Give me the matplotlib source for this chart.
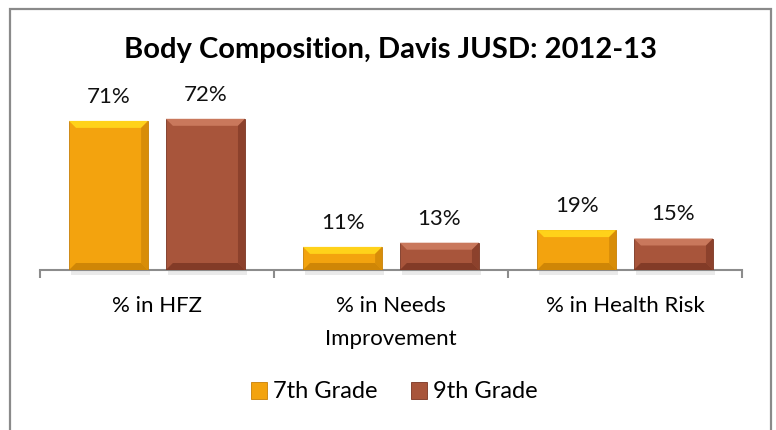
import numpy as np
import matplotlib
matplotlib.use("Agg")
import matplotlib.pyplot as plt
from matplotlib.patches import Polygon, Rectangle

plt.rcParams['font.family'] = ['Lato', 'DejaVu Sans']

title = "Body Composition, Davis JUSD: 2012-13"
categories = ["% in HFZ", "% in Needs\nImprovement", "% in Health Risk"]
series_names = ["7th Grade", "9th Grade"]
grade7 = [71, 11, 19]
grade9 = [72, 13, 15]

colors = ['#F3A30E', '#A8553B']
light = ['#FFD21A', '#C9785C']
dark = ['#C77F05', '#7A3522']

fig = plt.figure(figsize=(7.76, 4.3), dpi=100)
ax = fig.add_axes([40 / 776, 1 - 270 / 430, 702 / 776, 168 / 430])

x = np.arange(len(categories))
w = 0.338
off = 0.207
ax.set_xlim(-0.5, len(categories) - 0.5)
ax.set_ylim(0, 80)

# pixel -> data scale, for the bevel size
px_x = 1 / 234.0
px_y = 80 / 168.0
bev = 7

for k, vals in enumerate([grade7, grade9]):
    pos = x + (-off if k == 0 else off)
    bars = ax.bar(pos, vals, w, color=colors[k], edgecolor=dark[k], linewidth=0.6,
                  label=series_names[k], zorder=3)
    for b in bars:
        x0, y0 = b.get_x(), b.get_y()
        x1, y1 = x0 + b.get_width(), y0 + b.get_height()
        bx = bev * px_x
        by = min(bev * px_y, (y1 - y0) / 2.5)
        # soft shadow under the bar
        ax.add_patch(Rectangle((x0 + 2 * px_x, y0 - 5 * px_y), x1 - x0, 5 * px_y,
                               facecolor='#cccccc', edgecolor='none', alpha=0.4, zorder=2,
                               clip_on=False))
        ax.add_patch(Polygon([(x0, y1), (x1, y1), (x1 - bx, y1 - by), (x0 + bx, y1 - by)],
                             facecolor=light[k], edgecolor='none', zorder=4))
        ax.add_patch(Polygon([(x1, y1), (x1, y0), (x1 - bx, y0 + by), (x1 - bx, y1 - by)],
                             facecolor=dark[k], edgecolor='none', alpha=0.6, zorder=4))
        ax.add_patch(Polygon([(x0, y0), (x1, y0), (x1 - bx, y0 + by), (x0 + bx, y0 + by)],
                             facecolor=dark[k], edgecolor='none', alpha=0.8, zorder=4))
        ax.text(b.get_x() + b.get_width() / 2, y1 + 14 * px_y, f"{int(y1)}%",
                ha='center', va='bottom', fontsize=16, color='#111111')

for s in ['top', 'right', 'left']:
    ax.spines[s].set_visible(False)
ax.spines['bottom'].set_color('#8c8c8c')
ax.spines['bottom'].set_linewidth(1.5)
ax.set_yticks([])
ax.set_xticks(np.arange(-0.5, len(categories)), labels=[])
ax.tick_params(axis='x', which='major', length=6, width=1.5, color='#8c8c8c')
ax.set_xticks(x, labels=categories, minor=True)
ax.tick_params(axis='x', which='minor', length=0, pad=19, labelsize=16)
for t in ax.get_xticklabels(minor=True):
    t.set_linespacing(1.8)
    t.set_va('top')

fig.text(0.503, 1 - 50 / 430, title, ha='center', va='center', fontsize=21,
         fontweight='bold', color='#000000')

fig.legend(loc='center', bbox_to_anchor=(0.508, 1 - 392 / 430), ncol=2, frameon=False,
           fontsize=17, handlelength=0.7, handleheight=0.7, handletextpad=0.25,
           columnspacing=1.4)

fig.add_artist(Rectangle((9.5 / 776, -0.05), 761.5 / 776, 1.05 - 9.5 / 430,
                         transform=fig.transFigure, fill=False, edgecolor='#8a8a8a',
                         linewidth=1.6))

fig.savefig("out.png", dpi=100)
